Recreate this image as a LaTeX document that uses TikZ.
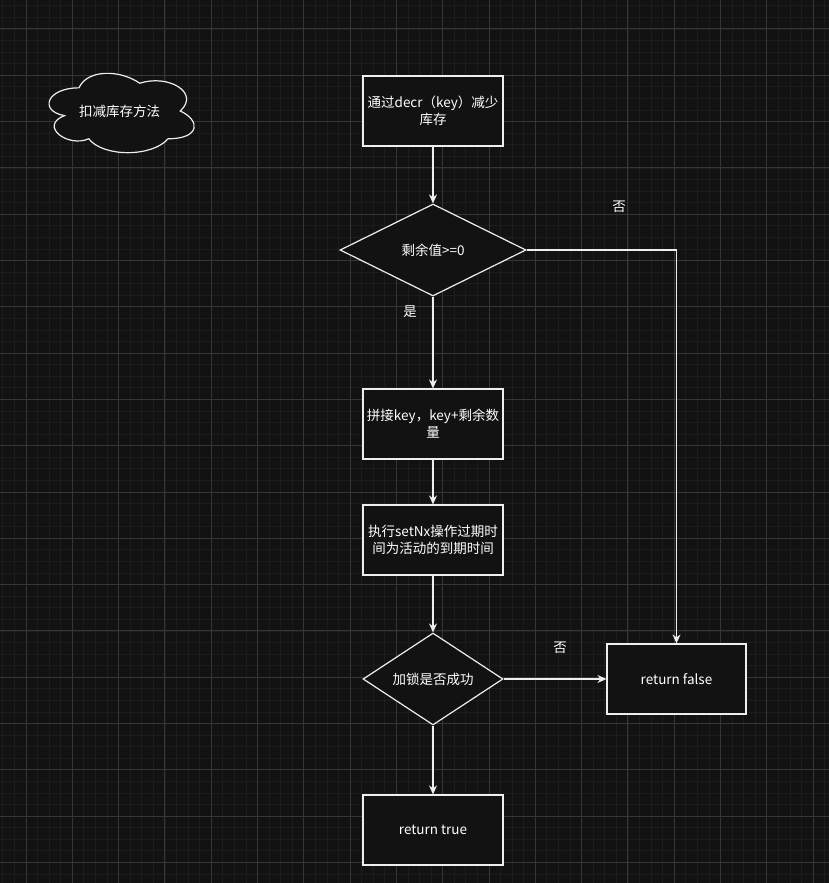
\documentclass[tikz,border=0pt]{standalone}
\usepackage{fontspec}
\setmainfont{Noto Sans CJK SC}
\usetikzlibrary{shapes.geometric,arrows.meta}
\definecolor{canvas}{HTML}{121212}
\definecolor{gridminor}{HTML}{1C1C1C}
\definecolor{gridmajor}{HTML}{363636}
\definecolor{edge}{HTML}{EEEEEE}
\begin{document}
\begin{tikzpicture}[x=1pt,y=-1pt,
	every node/.style={text=white,font=\fontsize{13.5}{17}\selectfont},
	stepbox/.style={draw=edge,fill=canvas,line width=1.2pt,minimum width=140pt,minimum height=70pt,align=center,inner sep=1pt},
	test/.style={diamond,draw=edge,fill=canvas,line width=1.2pt,aspect=2,inner sep=0pt},
	flow/.style={draw=edge,line width=1.2pt,-{Stealth[length=9pt,width=8pt,inset=3pt]}},
	note/.style={inner sep=0pt}]
	% canvas and grid
	\fill[canvas] (0,0) rectangle (829,883);
	\useasboundingbox (0,0) rectangle (829,883);
	\foreach \i in {-2,...,69}
		\draw[gridminor,line width=0.8pt] (26+11.575*\i,0) -- (26+11.575*\i,883);
	\foreach \i in {-2,...,73}
		\draw[gridminor,line width=0.8pt] (0,29+11.575*\i) -- (829,29+11.575*\i);
	\foreach \i in {0,...,17}
		\draw[gridmajor,line width=1pt] (26+46.3*\i,0) -- (26+46.3*\i,883);
	\foreach \i in {-1,...,18}
		\draw[gridmajor,line width=1pt] (0,29+46.3*\i) -- (829,29+46.3*\i);
	% title cloud
	\begin{scope}[shift={(38.5,64.7)},xscale=162,yscale=92.6]
		\filldraw[draw=edge,fill=canvas,line width=1.2pt]
			(0.25,0.25) .. controls (0.05,0.25) and (0,0.5) .. (0.16,0.55)
			.. controls (0,0.66) and (0.18,0.9) .. (0.31,0.8)
			.. controls (0.4,1) and (0.7,1) .. (0.8,0.8)
			.. controls (1,0.8) and (1,0.6) .. (0.875,0.5)
			.. controls (1,0.3) and (0.8,0.1) .. (0.625,0.2)
			.. controls (0.5,0.05) and (0.3,0.05) .. (0.25,0.25) -- cycle;
	\end{scope}
	\node (title) at (119.5,111) {扣减库存方法};
	% flow
	\node[stepbox] (decr) at (433,111) {通过decr（key）减少\\库存};
	\node[test,minimum width=186pt,minimum height=92pt] (left) at (433,250) {剩余值>=0};
	\node[stepbox] (joinkey) at (433,424) {拼接key，key+剩余数\\量};
	\node[stepbox] (setnx) at (433,540) {执行setNx操作过期时\\间为活动的到期时间};
	\node[test,minimum width=140pt,minimum height=92pt] (locked) at (433,679) {加锁是否成功};
	\node[stepbox] (rtrue) at (433,830) {return true};
	\node[stepbox,minimum width=139pt] (rfalse) at (676.5,679) {return false};
	% labels
	\node[note] (yes) at (410,312) {是};
	\node[note] (no1) at (619,207) {否};
	\node[note] (no2) at (560,648) {否};
	% connectors
	\draw[flow] (decr) -- (left);
	\draw[flow] (left) -- (joinkey);
	\draw[flow] (joinkey) -- (setnx);
	\draw[flow] (setnx) -- (locked);
	\draw[flow] (locked) -- (rtrue);
	\draw[flow] (locked) -- (rfalse);
	\draw[flow] (left.east) -| (rfalse);
\end{tikzpicture}
\end{document}
